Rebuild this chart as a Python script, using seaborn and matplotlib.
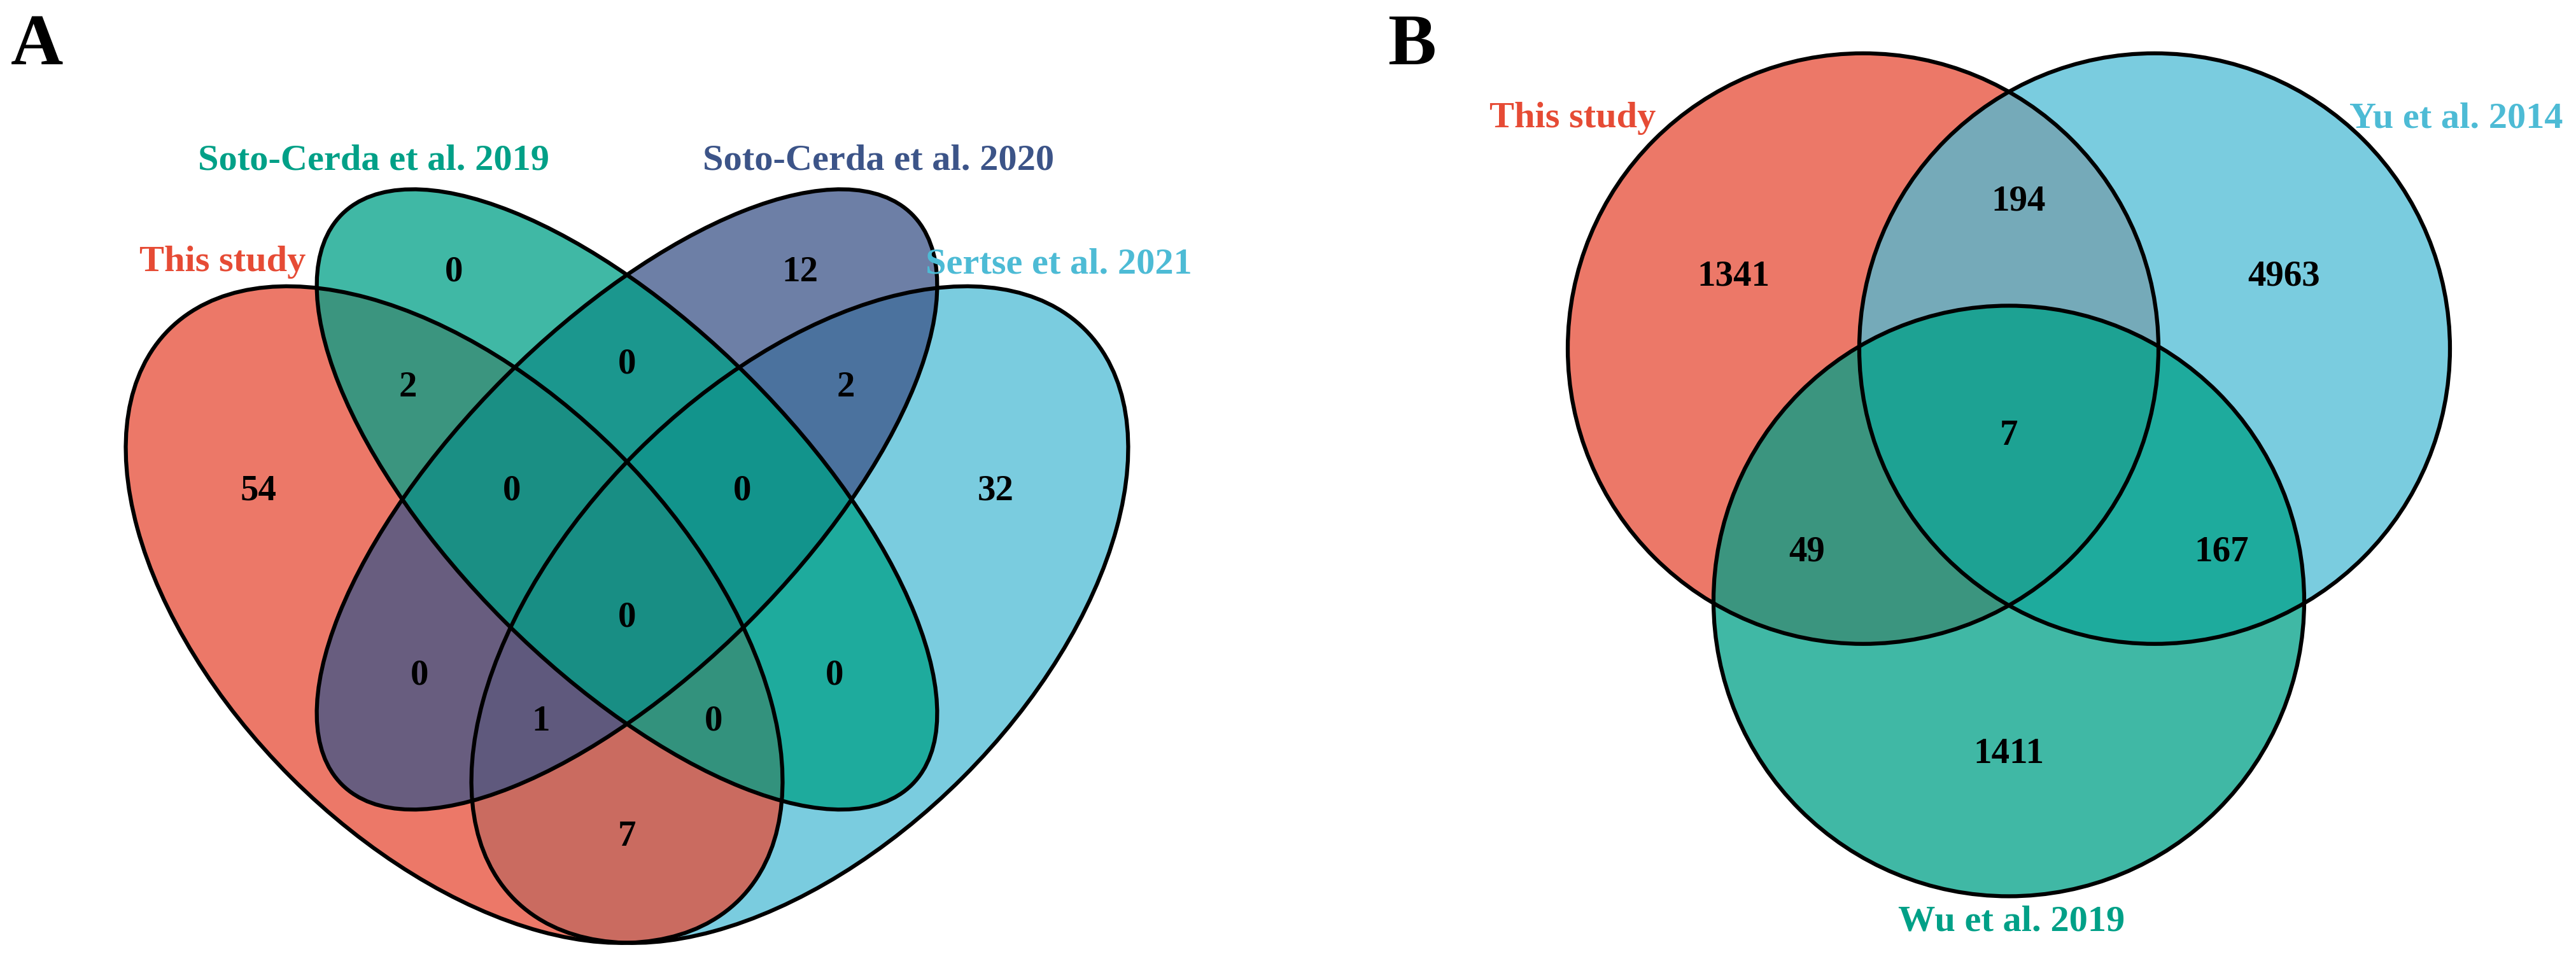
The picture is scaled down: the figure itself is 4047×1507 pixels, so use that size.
import matplotlib
matplotlib.use('Agg')
import matplotlib.pyplot as plt
from matplotlib.patches import Ellipse, Circle
import seaborn as sns

# Panel A : four-set Venn (counts per region, region code = membership of the 4 sets)
sets_a = ['This study', 'Soto-Cerda et al. 2019', 'Soto-Cerda et al. 2020', 'Sertse et al. 2021']
regions_a = ['1000', '0100', '0010', '0001', '1100', '0110', '0011', '1110',
             '0111', '1111', '1010', '0101', '1011', '1101', '1001']
counts_a = [54, 0, 12, 32, 2, 0, 2, 0, 0, 0, 0, 0, 1, 0, 7]

# Panel B : three-set Venn
sets_b = ['This study', 'Yu et al. 2014', 'Wu et al. 2019']
regions_b = ['100', '010', '001', '110', '101', '011', '111']
counts_b = [1341, 4963, 1411, 194, 49, 167, 7]

# npg colours
npg = sns.color_palette(['#E64B35', '#00A087', '#3C5488', '#4DBBD5'])
colors_a = [npg[0], npg[1], npg[2], npg[3]]
colors_b = [npg[0], npg[3], npg[1]]

# layout (VennDiagram style) ---------------------------------------------
# ellipses: centre x, centre y, semi-major, semi-minor, angle
shape_a = [(0.35, 0.47, 0.35, 0.20, 135),
           (0.50, 0.57, 0.35, 0.15, 135),
           (0.50, 0.57, 0.35, 0.15, 45),
           (0.65, 0.47, 0.35, 0.20, 45)]
draw_order_a = [3, 0, 2, 1]
label_pos_a = {'1000': (0.18, 0.58), '0100': (0.35, 0.77), '0010': (0.65, 0.77),
               '0001': (0.82, 0.58), '1100': (0.31, 0.67), '0110': (0.50, 0.69),
               '0011': (0.69, 0.67), '1110': (0.40, 0.58), '0111': (0.60, 0.58),
               '1111': (0.50, 0.47), '1010': (0.32, 0.42), '0101': (0.68, 0.42),
               '1011': (0.425, 0.38), '1101': (0.575, 0.38), '1001': (0.50, 0.28)}
cat_pos_a = [(0.149, 0.779), (0.280, 0.867), (0.718, 0.867), (0.875, 0.777)]

d = 0.987
shape_b = [(-d / 2, d / (2 * 3 ** 0.5)), (d / 2, d / (2 * 3 ** 0.5)), (0, -d / 3 ** 0.5)]
label_pos_b = {'100': (-0.933, 0.539), '010': (0.931, 0.539), '001': (0.0, -1.078),
               '110': (0.032, 0.793), '101': (-0.685, -0.394), '011': (0.72, -0.394),
               '111': (0.0, 0.0)}
cat_pos_b = [(-1.476, 1.075), (1.515, 1.075), (0.009, -1.644)]

FS_NUM = 41
FS_CAT = 42
LW = 4.5
ALPHA = 0.75

sns.set_theme(style='white')
plt.rcParams['font.family'] = ['Liberation Serif', 'DejaVu Serif']
plt.rcParams['font.weight'] = 'bold'
plt.rcParams['text.color'] = 'black'


def put(ax, x, y, s, color='black', size=FS_NUM):
    # anchor is the middle of the cap height
    ax.annotate(s, (x, y), xytext=(0, -0.33 * size), textcoords='offset points',
                ha='center', va='baseline', fontsize=size, color=color,
                fontweight='bold', annotation_clip=False)


W, H = 4048, 1507
fig = plt.figure(figsize=(W / 100, H / 100), dpi=100)

# ---- A
axA = fig.add_axes([80 / W, 0, 1810 / W, 1])
axA.set_xlim(0, 1)
axA.set_ylim(1.0036 - H / 1810, 1.0036)
axA.axis('off')
for i in draw_order_a:
    x, y, a, b, ang = shape_a[i]
    axA.add_patch(Ellipse((x, y), 2 * a, 2 * b, angle=ang, facecolor=colors_a[i],
                          alpha=ALPHA, edgecolor='none'))
for x, y, a, b, ang in shape_a:
    axA.add_patch(Ellipse((x, y), 2 * a, 2 * b, angle=ang, fill=False,
                          edgecolor='black', lw=LW))
for r, c in zip(regions_a, counts_a):
    put(axA, *label_pos_a[r], str(c))
for name, pos, col in zip(sets_a, cat_pos_a, colors_a):
    put(axA, *pos, name, color=col, size=FS_CAT)

# ---- B
axB = fig.add_axes([2048 / W, 0, 2000 / W, 1])
axB.set_xlim(-(3156 - 2048) / 464, (4048 - 3156) / 464)
axB.set_ylim(-(H - 680) / 464, 680 / 464)
axB.axis('off')
for (x, y), col in zip(shape_b, colors_b):
    axB.add_patch(Circle((x, y), 1.0, facecolor=col, alpha=ALPHA, edgecolor='none'))
for x, y in shape_b:
    axB.add_patch(Circle((x, y), 1.0, fill=False, edgecolor='black', lw=LW))
for r, c in zip(regions_b, counts_b):
    put(axB, *label_pos_b[r], str(c))
for name, pos, col in zip(sets_b, cat_pos_b, colors_b):
    put(axB, *pos, name, color=col, size=FS_CAT)

# panel letters
fig.text(17 / W, 1 - 101 / H, 'A', fontsize=82, fontweight='bold', color='black',
         ha='left', va='baseline')
fig.text(2180 / W, 1 - 101 / H, 'B', fontsize=82, fontweight='bold', color='black',
         ha='left', va='baseline')

fig.savefig('out.png', dpi=100)
